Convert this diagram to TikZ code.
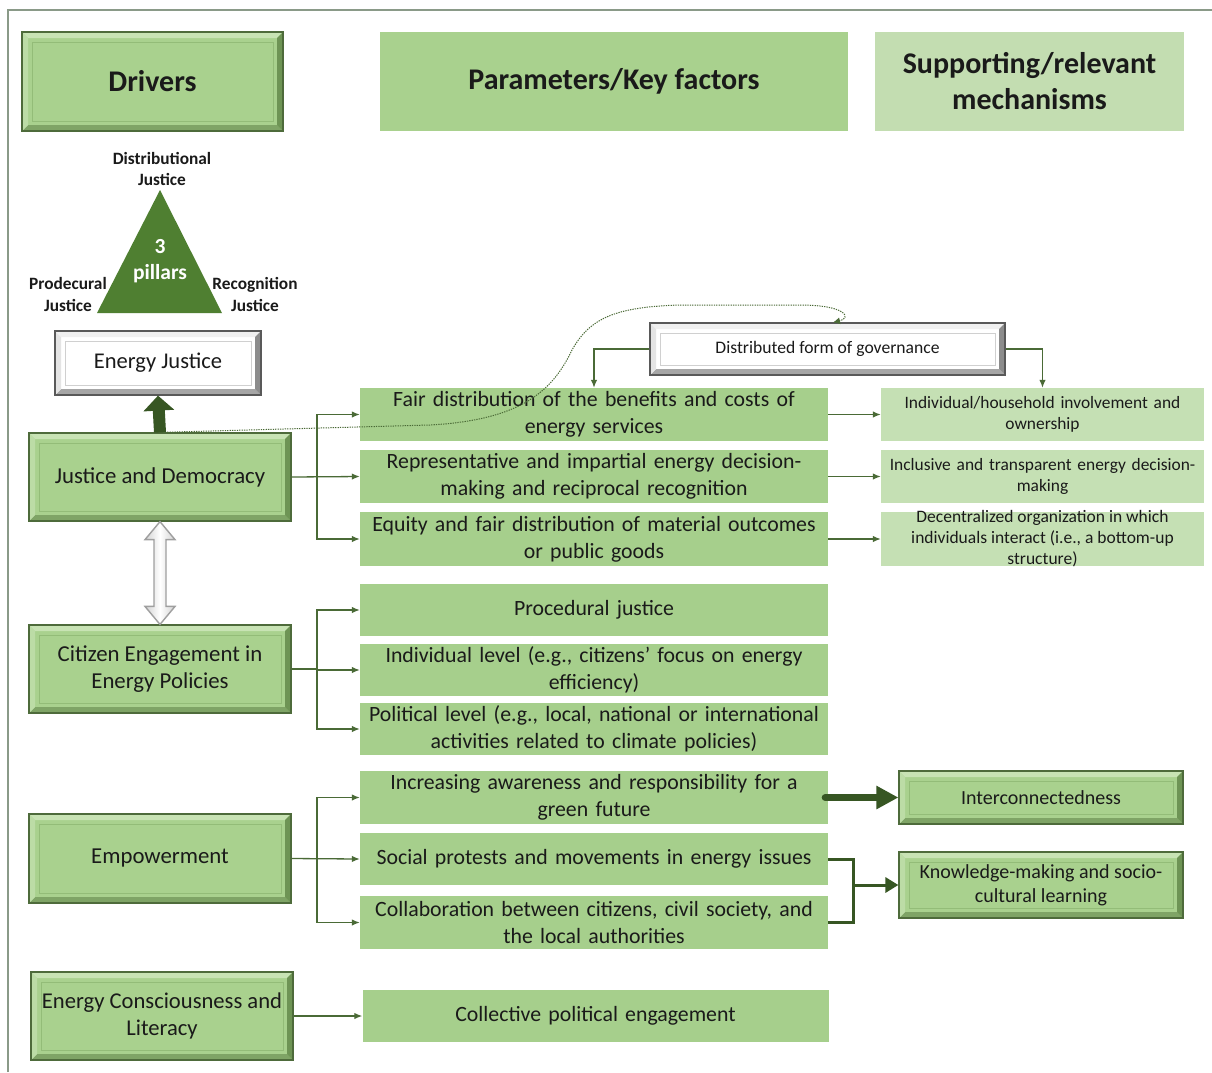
\documentclass[tikz,border=0pt]{standalone}
\usepackage{fontspec}
\setmainfont{Carlito}
\usetikzlibrary{arrows.meta,calc}

\definecolor{face}{HTML}{A9D18E}
\definecolor{gtop}{HTML}{C8E3B4}
\definecolor{gleft}{HTML}{BCDCA6}
\definecolor{gbot}{HTML}{7FA466}
\definecolor{gright}{HTML}{6E9455}
\definecolor{gedge}{HTML}{4E6B3B}
\definecolor{gline}{HTML}{93BC78}
\definecolor{midfill}{HTML}{A6CF8C}
\definecolor{rightfill}{HTML}{C5E0B4}
\definecolor{suppfill}{HTML}{C3DDB1}
\definecolor{wtop}{HTML}{F0F0F0}
\definecolor{wleft}{HTML}{E4E4E4}
\definecolor{wbot}{HTML}{A6A6A6}
\definecolor{wright}{HTML}{8C8C8C}
\definecolor{wedge}{HTML}{595959}
\definecolor{wline}{HTML}{D0D0D0}
\definecolor{trigreen}{HTML}{4F7F31}
\definecolor{connc}{HTML}{4A6A36}
\definecolor{darkarrow}{HTML}{375623}
\definecolor{framec}{HTML}{8A9A88}
\definecolor{txt}{HTML}{1A1A1A}

\def\bw{6pt}

\tikzset{
  bevel/.style={
    path picture={
      \path (path picture bounding box.north west) coordinate (bnw)
            (path picture bounding box.south east) coordinate (bse)
            (path picture bounding box.north east) coordinate (bne)
            (path picture bounding box.south west) coordinate (bsw);
      \fill[bvtop] (bnw) -- (bne) -- ([shift={(-\bw,-\bw)}]bne) -- ([shift={(\bw,-\bw)}]bnw) -- cycle;
      \fill[bvbot] (bsw) -- (bse) -- ([shift={(-\bw,\bw)}]bse) -- ([shift={(\bw,\bw)}]bsw) -- cycle;
      \fill[bvleft] (bnw) -- (bsw) -- ([shift={(\bw,\bw)}]bsw) -- ([shift={(\bw,-\bw)}]bnw) -- cycle;
      \fill[bvright] (bne) -- (bse) -- ([shift={(-\bw,\bw)}]bse) -- ([shift={(-\bw,-\bw)}]bne) -- cycle;
      \draw[bvline] ([shift={(\bw+4pt,-\bw-4pt)}]bnw) rectangle ([shift={(-\bw-4pt,\bw+4pt)}]bse);
    }},
  greenbevel/.style={rectangle, bevel, fill=face, draw=gedge, line width=1.2pt,
    bvtop/.style={fill=gtop}, bvleft/.style={fill=gleft},
    bvbot/.style={fill=gbot}, bvright/.style={fill=gright},
    bvline/.style={draw=gline, line width=0.8pt}},
  whitebevel/.style={rectangle, bevel, fill=white, draw=wedge, line width=1.2pt,
    bvtop/.style={fill=wtop}, bvleft/.style={fill=wleft},
    bvbot/.style={fill=wbot}, bvright/.style={fill=wright},
    bvline/.style={draw=wline, line width=0.8pt}},
  header/.style={rectangle, minimum height=99pt, align=center,
    font=\fontsize{30}{36}\selectfont\bfseries},
  driver/.style={greenbevel, minimum width=262pt, minimum height=88pt, align=center,
    font=\fontsize{22.8}{27}\selectfont},
  midbox/.style={rectangle, fill=midfill, minimum width=468pt, minimum height=53pt,
    text width=466pt, align=center, font=\fontsize{21.8}{27}\selectfont},
  rightbox/.style={rectangle, fill=rightfill, minimum width=323pt, minimum height=53pt,
    text width=321pt, align=center, font=\fontsize{17.4}{21}\selectfont},
  pillar/.style={align=center, font=\fontsize{17.3}{21.5}\selectfont\bfseries},
  conn/.style={draw=connc, line width=1.3pt, -{Latex[length=8pt,width=6.5pt]}},
  plainconn/.style={draw=connc, line width=1.3pt},
  dotconn/.style={draw=connc, line width=1pt, dash pattern=on 1.3pt off 1.1pt,
    -{Latex[length=7pt,width=7pt]}},
  bracketline/.style={draw=darkarrow, line width=3pt},
}

\begin{document}
\begin{tikzpicture}[x=1pt,y=-1pt, every node/.style={inner sep=0pt, text=txt}]
\useasboundingbox (0,0) rectangle (1212,1072);
\fill[white] (0,0) rectangle (1212,1072);

% outer frame
\draw[framec, line width=1.5pt] (8,1072) -- (8,10) -- (1212,10);

% column headers
\node[header, greenbevel, minimum width=261pt] (hdrivers) at (152.5,81.5) {Drivers};
\node[header, fill=face, minimum width=468pt] (hparams) at (614,81.5) {Parameters/Key factors};
\node[header, fill=suppfill, minimum width=309pt] (hsupp) at (1029.5,81.5) {Supporting/relevant\\mechanisms};

% three pillars of energy justice
\fill[trigreen] (160,190) -- (222,313) -- (97,313) -- cycle;
\node[align=center, text=white, font=\fontsize{21.5}{26}\selectfont\bfseries] (pillars) at (160,261) {3\\pillars};
\node[pillar] (pdist) at (162,169) {Distributional\\Justice};
\node[pillar] (pproc) at (68,294.5) {Prodecural\\Justice};
\node[pillar] (precog) at (255,294.5) {Recognition\\Justice};

\node[whitebevel, minimum width=206pt, minimum height=64pt, font=\fontsize{22.5}{26}\selectfont] (EJ) at (158,363) {Energy Justice};

% drivers
\node[driver] (JD) at (160,477) {Justice and Democracy};
\node[driver] (CE) at (160,669) {Citizen Engagement in\\Energy Policies};
\node[driver, minimum height=89pt] (EM) at (160,858.5) {Empowerment};
\node[driver, font=\fontsize{22.6}{27}\selectfont] (EC) at (162,1016) {Energy Consciousness and\\Literacy};

% parameters / key factors
\node[midbox] (m1) at (594,414.5) {Fair distribution of the benefits and costs of\\energy services};
\node[midbox] (m2) at (594,476.5) {Representative and impartial energy decision-\\making and reciprocal recognition};
\node[midbox, minimum height=54pt] (m3) at (594,539) {Equity and fair distribution of material outcomes\\or public goods};
\node[midbox, minimum height=52pt] (m4) at (594,610) {Procedural justice};
\node[midbox, minimum height=52pt] (m5) at (594,670) {Individual level (e.g., citizens’ focus on energy\\efficiency)};
\node[midbox, minimum height=52pt] (m6) at (594,729) {Political level (e.g., local, national or international\\activities related to climate policies)};
\node[midbox] (m7) at (594,797.5) {Increasing awareness and responsibility for a\\green future};
\node[midbox, minimum height=52pt] (m8) at (594,859) {Social protests and movements in energy issues};
\node[midbox] (m9) at (594,922.5) {Collaboration between citizens, civil society, and\\the local authorities};
\node[midbox, minimum width=465pt, minimum height=52pt] (m10) at (595.5,1016) {Collective political engagement};

% supporting / relevant mechanisms
\node[whitebevel, minimum width=355pt, minimum height=52pt, font=\fontsize{17.6}{20}\selectfont] (DFG) at (827.5,349) {Distributed form of governance};
\node[rightbox] (r1) at (1042.5,414.5) {Individual/household involvement and\\ownership};
\node[rightbox] (r2) at (1042.5,476.5) {Inclusive and transparent energy decision-\\making};
\node[rightbox, minimum height=54pt] (r3) at (1042.5,539) {};
\node[align=center, font=\fontsize{17.5}{21}\selectfont] (r3t) at (r3.center) {Decentralized organization in which\\individuals interact (i.e., a bottom-up\\structure)};
\node[greenbevel, minimum width=284pt, minimum height=53pt, font=\fontsize{20}{23}\selectfont] (IC) at (1041,797.5) {Interconnectedness};
\node[greenbevel, minimum width=284pt, minimum height=66pt, align=center, font=\fontsize{20}{24}\selectfont] (KM) at (1041,885) {Knowledge-making and socio-\\cultural learning};

% links to energy justice
\draw[dotconn] (JD.north) -- (430,425)
  .. controls (520,420) and (552,392) .. (572,350)
  .. controls (590,318) and (615,307) .. (680,305) -- (800,305)
  .. controls (846,305) and (852,318) .. ([xshift=5.5pt]DFG.north);
\draw[darkarrow, line width=12pt, -{Triangle[length=15pt,width=30pt]}] (JD.north) -- (EJ.south);

% hollow double arrow between the first two drivers
\path (JD.south) coordinate (da) (CE.north) coordinate (db);
\draw[draw=gray!75, line width=1.4pt, line join=miter, left color=gray!35, right color=gray!35, middle color=white]
  (da) -- ([shift={(15pt,-18pt)}]da) -- ([shift={(6pt,-18pt)}]da)
  -- ([shift={(6pt,18pt)}]db) -- ([shift={(15pt,18pt)}]db) -- (db)
  -- ([shift={(-15pt,18pt)}]db) -- ([shift={(-6pt,18pt)}]db)
  -- ([shift={(-6pt,-18pt)}]da) -- ([shift={(-15pt,-18pt)}]da) -- cycle;

% drivers to key factors
\coordinate (t1) at (317,477);
\draw[conn] (JD.east) -- (m2.west);
\draw[conn] (t1) |- (m1.west);
\draw[conn] (t1) |- (m3.west);

\coordinate (t2) at (317,669);
\draw[plainconn] (CE.east) -- (t2);
\draw[conn] (t2) |- (m5.west);
\draw[conn] (t2) |- (m4.west);
\draw[conn] (t2) |- (m6.west);

\coordinate (t3) at (317,859);
\draw[conn] (EM.east) -- (m8.west);
\draw[conn] (t3) |- (m7.west);
\draw[conn] (t3) |- (m9.west);

\draw[conn] (EC.east) -- (m10.west);

% key factors to mechanisms
\draw[conn] (m1.east) -- (r1.west);
\draw[conn] (m2.east) -- (r2.west);
\draw[conn] (m3.east) -- (r3.west);
\draw[conn] (DFG.west) -| (m1.north);
\draw[conn] (DFG.east) -| (r1.north);

\draw[darkarrow, line width=7pt, line cap=round, -{Triangle[length=22pt,width=22pt]}] ([xshift=-3pt]m7.east) -- (IC.west);

\coordinate (kj) at (853,885);
\draw[bracketline, line join=miter] (m8.east) -| (kj) |- (m9.east);
\draw[bracketline, -{Triangle[length=13pt,width=15pt]}] (kj) -- (KM.west);
\end{tikzpicture}
\end{document}
